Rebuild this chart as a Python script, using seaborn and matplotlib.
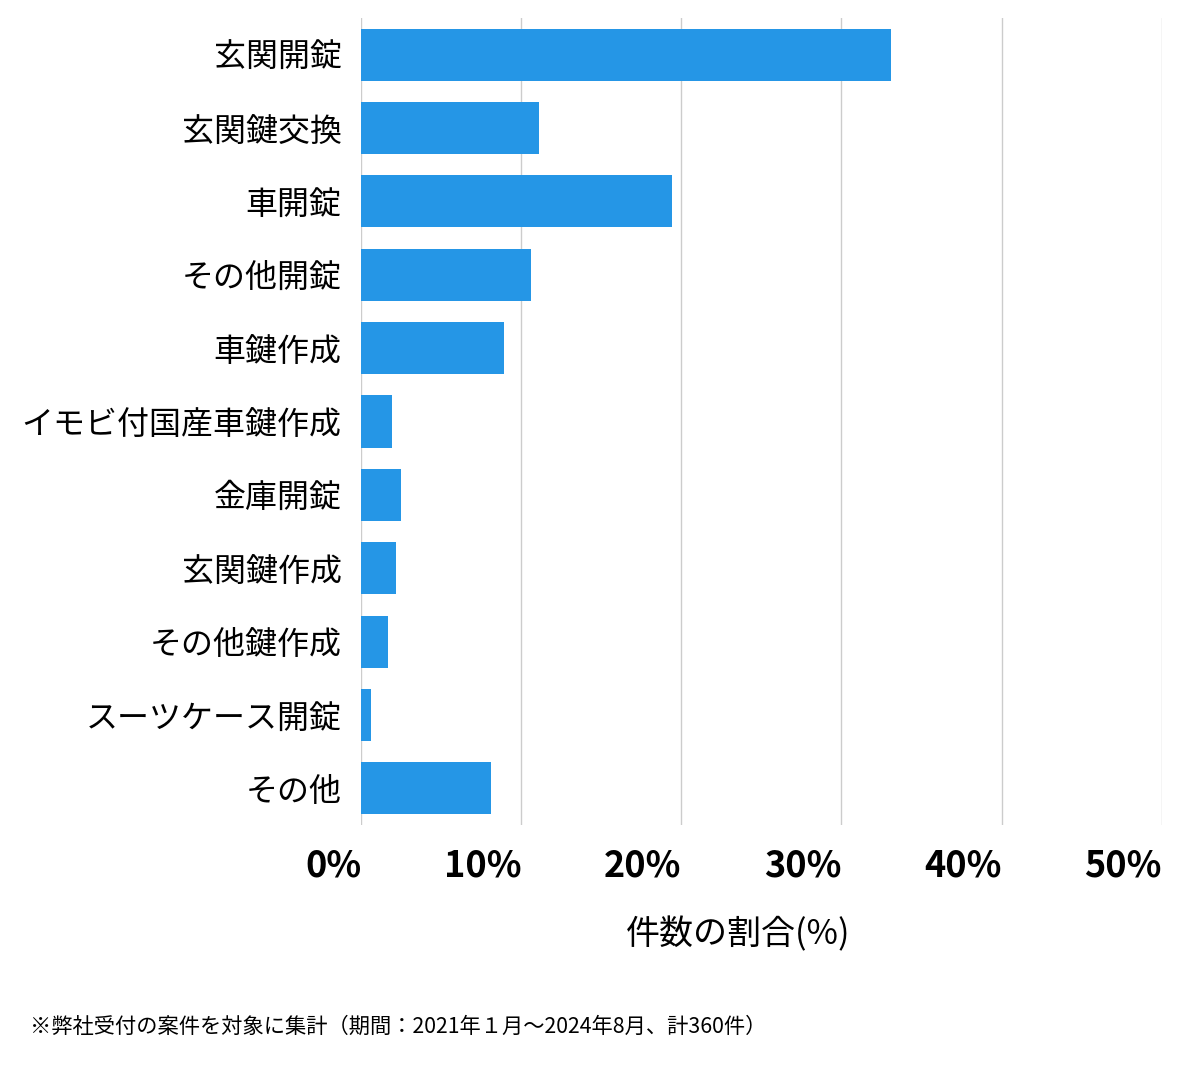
import matplotlib
matplotlib.use("Agg")
import matplotlib.pyplot as plt
import seaborn as sns
import pandas as pd

categories = ["玄関開錠","玄関鍵交換","車開錠","その他開錠","車鍵作成","イモビ付国産車鍵作成",
              "金庫開錠","玄関鍵作成","その他鍵作成","スーツケース開錠","その他"]
values = [33.1, 11.1, 19.4, 10.6, 8.9, 1.9, 2.5, 2.2, 1.7, 0.6, 8.1]
ticks = [0, 10, 20, 30, 40, 50]
tick_labels = ["0%","10%","20%","30%","40%","50%"]

plt.rcParams["font.family"] = "Noto Sans CJK JP"
df = pd.DataFrame({"cat": categories, "val": values})
fig = plt.figure(figsize=(12, 10.69), dpi=100)
ax = fig.add_axes([0.301, 1-825/1069, 0.667, 807/1069])
sns.barplot(data=df, x="val", y="cat", color="#2596e6", saturation=1, width=0.71, ax=ax)
ax.set_xlim(0, 50)
ax.set_xticks(ticks)
ax.set_xticklabels(tick_labels, fontsize=26, fontweight="bold", ha="right")
ax.tick_params(axis="x", length=0, pad=16)
ax.tick_params(axis="y", length=0, labelsize=23, pad=14)
ax.grid(axis="x", color="#cccccc", linewidth=1)
ax.set_axisbelow(True)
for s in ax.spines.values():
    s.set_visible(False)
ax.set_xlabel("")
ax.set_ylabel("")
fig.text(738/1200, 1-935/1069, "件数の割合(%)", fontsize=24.5, ha="center", va="center")
fig.text(30/1200, 1-1027/1069, "※弊社受付の案件を対象に集計（期間：2021年１月〜2024年8月、計360件）",
         fontsize=15.3, ha="left", va="center")
fig.savefig("out.png", dpi=100)
